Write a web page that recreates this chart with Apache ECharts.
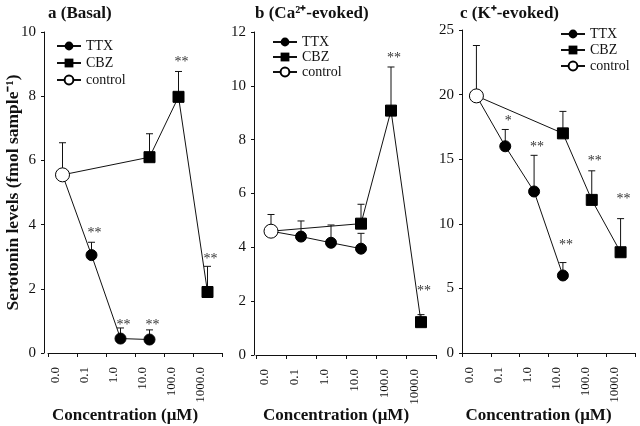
<!DOCTYPE html>
<html><head><meta charset="utf-8">
<script src="https://cdn.jsdelivr.net/npm/echarts@6/dist/echarts.min.js"></script>
<style>html,body{margin:0;padding:0;background:#fff}#c{width:640px;height:426px}</style>
</head><body><div id="c"></div>
<script>
// ---- data ----
const categories = ['0.0', '0.1', '1.0', '10.0', '100.0', '1000.0'];
const ttxCats = ['0.1', '1.0', '10.0'];
const cbzCats = ['10.0', '100.0', '1000.0'];
const seriesNames = ['TTX', 'CBZ', 'control'];
const panelTitles = ['a (Basal)', 'b (Ca\u00B2\u207A-evoked)', 'c (K\u207A-evoked)'];
const yMax = [10, 12, 25];
const yStep = [2, 2, 5];
const yAxisTitle = 'Serotonin levels (fmol sample\u207B\u00B9)';
const xAxisTitle = 'Concentration (\u03BCM)';

// panel a (Basal)
const aControl = 5.55, aControlErr = 6.55;
const aTTX = [3.05, 0.45, 0.42], aTTXErr = [3.45, 0.78, 0.72], aTTXSig = ['**', '**', '**'], aTTXSigAt = [3.72, 0.86, 0.86];
const aCBZ = [6.1, 7.98, 1.9], aCBZErr = [6.83, 8.77, 2.7], aCBZSig = ['', '**', '**'], aCBZSigAt = [0, 9.04, 2.91];
// panel b (Ca2+-evoked)
const bControl = 4.6, bControlErr = 5.22;
const bTTX = [4.4, 4.17, 3.95], bTTXErr = [4.98, 4.83, 4.52], bTTXSig = ['', '', ''], bTTXSigAt = [0, 0, 0];
const bCBZ = [4.88, 9.08, 1.22], bCBZErr = [5.6, 10.7, 1.5], bCBZSig = ['', '**', '**'], bCBZSigAt = [0, 11.04, 2.35];
// panel c (K+-evoked)
const cControl = 19.9, cControlErr = 23.8;
const cTTX = [16.0, 12.5, 6.0], cTTXErr = [17.3, 15.3, 7.0], cTTXSig = ['*', '**', '**'], cTTXSigAt = [17.93, 15.9, 8.3];
const cCBZ = [17.0, 11.85, 7.8], cCBZErr = [18.7, 14.1, 10.4], cCBZSig = ['', '**', '**'], cCBZSigAt = [0, 14.83, 11.86];

const panels = [
  {control: aControl, controlErr: aControlErr, ttx: aTTX, ttxErr: aTTXErr, ttxSig: aTTXSig, ttxSigAt: aTTXSigAt, cbz: aCBZ, cbzErr: aCBZErr, cbzSig: aCBZSig, cbzSigAt: aCBZSigAt},
  {control: bControl, controlErr: bControlErr, ttx: bTTX, ttxErr: bTTXErr, ttxSig: bTTXSig, ttxSigAt: bTTXSigAt, cbz: bCBZ, cbzErr: bCBZErr, cbzSig: bCBZSig, cbzSigAt: bCBZSigAt},
  {control: cControl, controlErr: cControlErr, ttx: cTTX, ttxErr: cTTXErr, ttxSig: cTTXSig, ttxSigAt: cTTXSigAt, cbz: cCBZ, cbzErr: cCBZErr, cbzSig: cCBZSig, cbzSigAt: cCBZSigAt}
];

// ---- layout / style ----
const FONT = '"Liberation Serif", "Times New Roman", serif';
const INK = '#111';
const grids = [
  {left: 48, top: 32, width: 174, height: 321, outerBoundsMode: 'none'},
  {left: 256, top: 32, width: 180, height: 323, outerBoundsMode: 'none'},
  {left: 462, top: 30, width: 173, height: 323, outerBoundsMode: 'none'}
];
const yOffsets = [4, 2, 0];
const xNameGaps = [54, 52, 54];
const legendPos = [
  {left: 56, top: 39, itemGap: 3},
  {left: 272, top: 35, itemGap: 1},
  {left: 560, top: 27, itemGap: 2}
];
const titleLeft = [48, 255, 460];

const option = {
  animation: false,
  backgroundColor: '#fff',
  title: panelTitles.map((t, i) => ({
    text: t, left: titleLeft[i], top: 5, padding: 0,
    textStyle: {fontFamily: FONT, fontWeight: 'bold', fontSize: 17, color: INK}
  })),
  legend: legendPos.map((p, i) => ({
    data: seriesNames, orient: 'vertical', left: p.left, top: p.top, itemGap: p.itemGap,
    itemWidth: 24, itemHeight: 11, padding: 0, selectedMode: false,
    textStyle: {fontFamily: FONT, fontSize: 14, color: INK, lineHeight: 14}
  })),
  grid: grids,
  xAxis: grids.map((g, i) => ({
    type: 'category', gridIndex: i, data: categories, boundaryGap: true,
    name: xAxisTitle, nameLocation: 'middle', nameGap: xNameGaps[i], nameMoveOverlap: false,
    nameTextStyle: {fontFamily: FONT, fontWeight: 'bold', fontSize: 17, color: INK, padding: [0, 20, 0, 0]},
    axisLine: {lineStyle: {color: INK, width: 1}},
    axisTick: {show: true, length: 4, inside: false, lineStyle: {color: INK}},
    axisLabel: {rotate: 90, margin: 14, fontFamily: FONT, fontSize: 13, color: INK, interval: 0, verticalAlign: 'bottom'},
    splitLine: {show: false}
  })),
  yAxis: grids.map((g, i) => ({
    type: 'value', gridIndex: i, min: 0, max: yMax[i], interval: yStep[i], offset: yOffsets[i],
    name: i === 0 ? yAxisTitle : '', nameLocation: 'middle', nameGap: 22, nameMoveOverlap: false,
    nameTextStyle: {fontFamily: FONT, fontWeight: 'bold', fontSize: 17.5, color: INK},
    axisLine: {show: true, lineStyle: {color: INK, width: 1}},
    axisTick: {show: true, length: 3, lineStyle: {color: INK}},
    axisLabel: {margin: 8, fontFamily: FONT, fontSize: 15, color: INK},
    splitLine: {show: false}
  })),
  series: []
};

panels.forEach((p, gi) => {
  option.series.push({
    name: 'TTX', type: 'line', xAxisIndex: gi, yAxisIndex: gi, z: 3,
    symbol: 'circle', symbolSize: 11,
    itemStyle: {color: '#000', borderColor: '#000'},
    lineStyle: {color: INK, width: 1},
    data: [{value: [categories[0], p.control], symbol: 'none'}].concat(p.ttx.map((v, k) => [ttxCats[k], v]))
  });
  option.series.push({
    name: 'CBZ', type: 'line', xAxisIndex: gi, yAxisIndex: gi, z: 3,
    symbol: 'rect', symbolSize: 11,
    itemStyle: {color: '#000', borderColor: '#000'},
    lineStyle: {color: INK, width: 1},
    data: [{value: [categories[0], p.control], symbol: 'none'}].concat(p.cbz.map((v, k) => [cbzCats[k], v]))
  });
  option.series.push({
    name: 'control', type: 'line', xAxisIndex: gi, yAxisIndex: gi, z: 4,
    symbol: 'circle', symbolSize: 14,
    itemStyle: {color: '#fff', borderColor: '#000', borderWidth: 1},
    lineStyle: {color: INK, width: 1},
    data: [[categories[0], p.control]]
  });
  const items = [{cat: categories[0], v: p.control, top: p.controlErr, sig: '', at: 0}];
  p.ttx.forEach((v, k) => items.push({cat: ttxCats[k], v, top: p.ttxErr[k], sig: p.ttxSig[k], at: p.ttxSigAt[k]}));
  p.cbz.forEach((v, k) => items.push({cat: cbzCats[k], v, top: p.cbzErr[k], sig: p.cbzSig[k], at: p.cbzSigAt[k]}));
  option.series.push({
    type: 'custom', xAxisIndex: gi, yAxisIndex: gi, z: 1, silent: true,
    data: items.map(d => [d.cat, d.v, d.top, d.at]),
    renderItem(params, api) {
      const d = items[params.dataIndex];
      const p0 = api.coord([api.value(0), api.value(1)]);
      const p1 = api.coord([api.value(0), api.value(2)]);
      const children = [
        {type: 'line', shape: {x1: p0[0], y1: p0[1], x2: p1[0], y2: p1[1]}, style: {stroke: INK, lineWidth: 1}},
        {type: 'line', shape: {x1: p1[0] - 3.5, y1: p1[1], x2: p1[0] + 3.5, y2: p1[1]}, style: {stroke: INK, lineWidth: 1}}
      ];
      if (d.sig) {
        const ps = api.coord([api.value(0), api.value(3)]);
        children.push({type: 'text', style: {text: d.sig, x: ps[0] + 3, y: ps[1], align: 'center', verticalAlign: 'middle',
          font: '14px ' + FONT, fill: '#333'}});
      }
      return {type: 'group', children};
    }
  });
});

const chart = echarts.init(document.getElementById('c'), null, {renderer: 'canvas'});
chart.setOption(option);
</script>
</body></html>
